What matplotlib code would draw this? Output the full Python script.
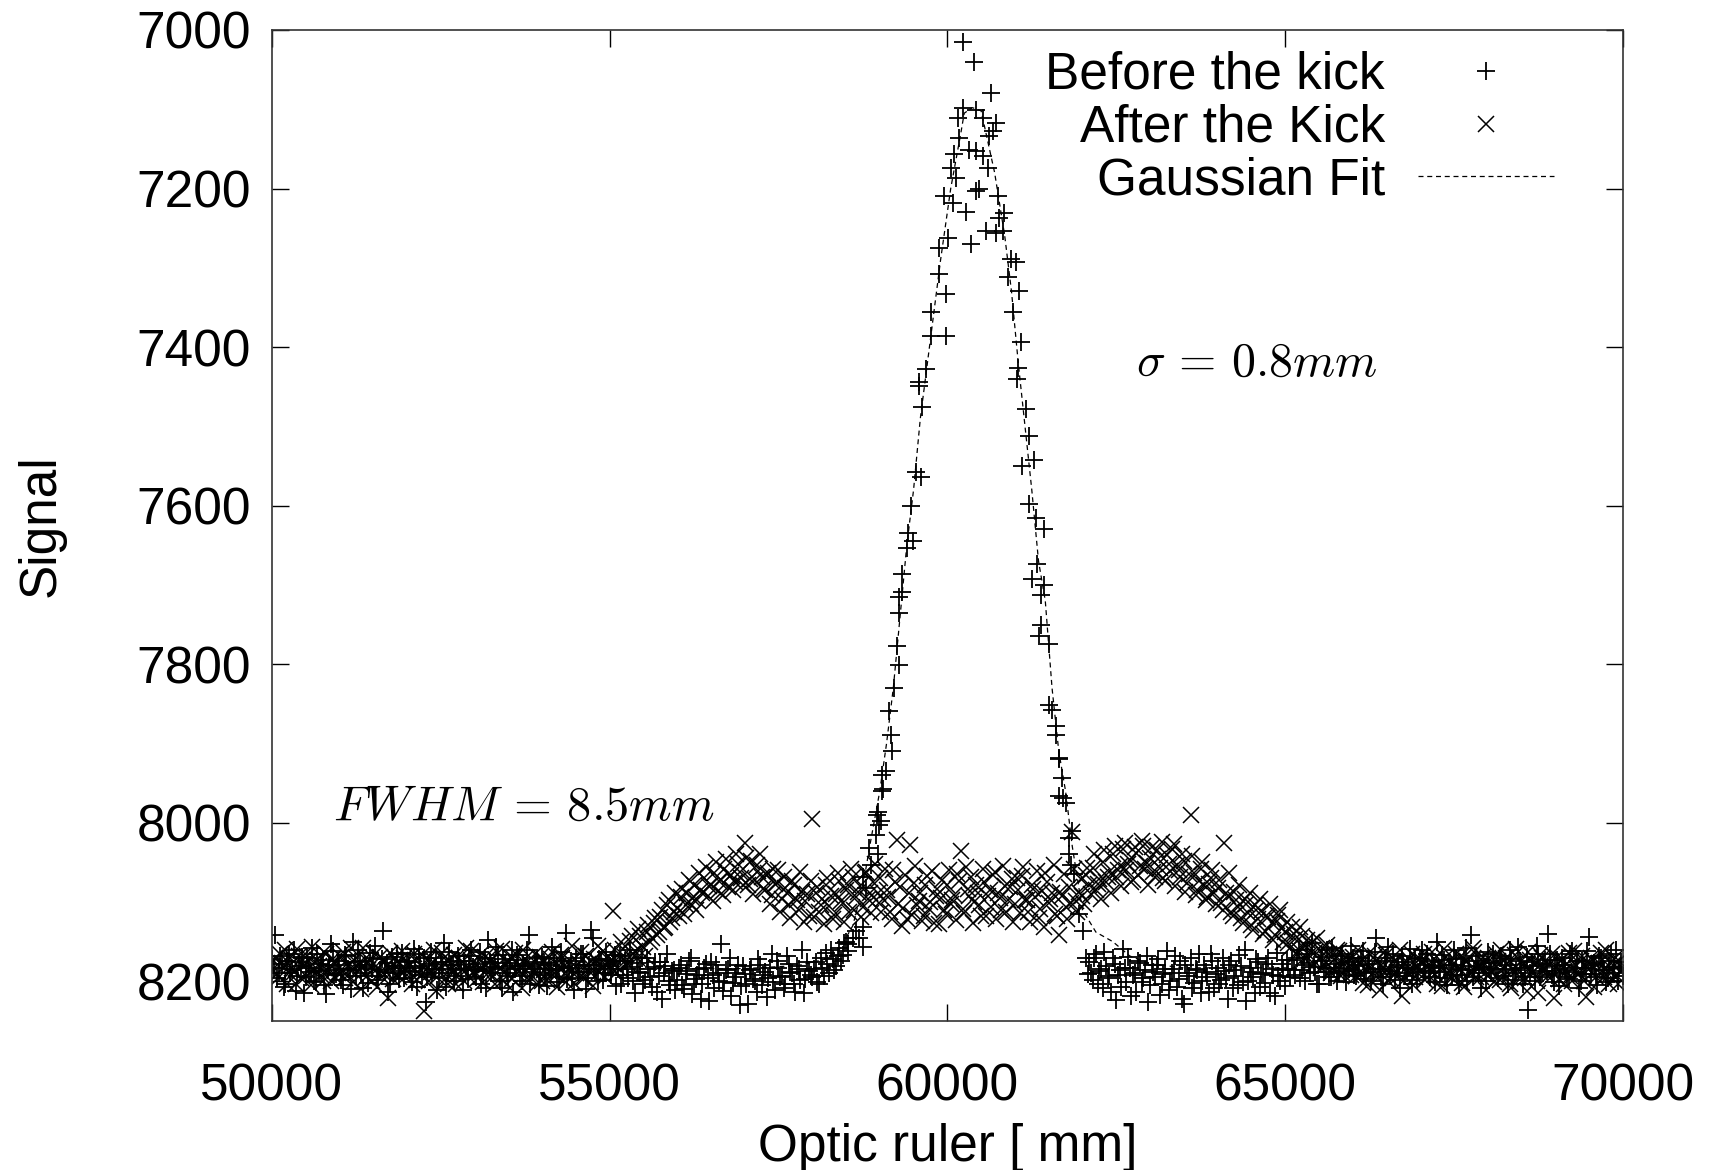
import numpy as np
import matplotlib
matplotlib.use("Agg")
import matplotlib.pyplot as plt

plt.rcParams['font.family'] = ['Liberation Sans', 'DejaVu Sans']
plt.rcParams['mathtext.fontset'] = 'cm'

# --- data (optic ruler position, signal) ---

# before the kick: flat part left of the peak (two interleaved runs, 50 units step)
before_x1 = np.arange(50000, 58550, 50)
before_y1 = [
    8172, 8141, 8190, 8178, 8203, 8165, 8185, 8212, 8176, 8169, 8194, 8183, 8158, 8201, 8187, 8173, 8216, 8180, 8162, 8191,
    8179, 8205, 8168, 8186, 8150, 8193, 8175, 8209, 8182, 8164, 8171, 8198, 8186, 8137, 8177, 8204, 8190, 8166, 8183, 8196,
    8174, 8188, 8159, 8207, 8181, 8170, 8195, 8163, 8184, 8211, 8176, 8152, 8189, 8179, 8200, 8168, 8185, 8174, 8197, 8161,
    8186, 8178, 8203, 8171, 8148, 8190, 8182, 8167, 8208, 8177, 8193, 8160, 8185, 8173, 8199, 8181, 8142, 8188, 8176, 8205,
    8169, 8192, 8180, 8157, 8186, 8201, 8174, 8139, 8183, 8196, 8170, 8188, 8165, 8210, 8179, 8145, 8184, 8172, 8198, 8163,
    8181, 8175, 8206, 8168, 8192, 8185, 8160, 8199, 8177, 8189, 8203, 8171, 8194, 8182, 8213, 8176, 8190, 8166, 8205, 8186,
    8198, 8179, 8210, 8187, 8171, 8203, 8192, 8222, 8183, 8196, 8176, 8208, 8189, 8153, 8201, 8185, 8218, 8194, 8180, 8206,
    8191, 8228, 8184, 8199, 8172, 8205, 8188, 8196, 8166, 8211, 8183, 8193, 8203, 8178, 8190, 8214, 8185, 8160, 8197, 8187,
    8195, 8176, 8204, 8183, 8164, 8190, 8172, 8181, 8158, 8167, 8150,
]
before_x1b = np.arange(50025, 58550, 50)
before_y1b = [
    8183, 8196, 8168, 8207, 8174, 8189, 8160, 8193, 8181, 8215, 8171, 8188, 8199, 8166, 8178, 8205, 8186, 8153, 8192, 8175,
    8198, 8167, 8184, 8210, 8176, 8161, 8190, 8179, 8202, 8185, 8155, 8193, 8172, 8188, 8213, 8169, 8181, 8197, 8164, 8187,
    8176, 8201, 8183, 8165, 8192, 8226, 8178, 8189, 8170, 8196, 8184, 8207, 8163, 8180, 8193, 8174, 8211, 8186, 8168, 8182,
    8195, 8163, 8187, 8209, 8176, 8184, 8157, 8199, 8172, 8190, 8181, 8214, 8167, 8193, 8178, 8160, 8203, 8185, 8171, 8189,
    8177, 8206, 8186, 8170, 8194, 8163, 8182, 8197, 8175, 8211, 8188, 8166, 8180, 8196, 8135, 8184, 8200, 8173, 8190, 8178,
    8192, 8167, 8185, 8203, 8174, 8196, 8182, 8215, 8188, 8170, 8198, 8184, 8207, 8176, 8193, 8222, 8181, 8199, 8187, 8211,
    8183, 8205, 8191, 8174, 8216, 8197, 8185, 8203, 8178, 8225, 8192, 8180, 8199, 8212, 8186, 8170, 8202, 8190, 8230, 8181,
    8204, 8186, 8197, 8213, 8179, 8192, 8220, 8183, 8201, 8175, 8195, 8209, 8168, 8188, 8203, 8181, 8198, 8215, 8176, 8192,
    8185, 8201, 8170, 8193, 8178, 8160, 8186, 8168, 8175, 8152, 8162,
]

# before the kick: the peak itself
peak_x = [
    58525, 58599, 58649, 58698, 58747, 58747, 58747, 58797, 58846, 58871, 58944, 58969, 58969, 58995, 59018, 58965,
    59038, 59038, 59043, 59093, 59142, 59167, 59187, 59216, 59260, 59290, 59290, 59290, 59335, 59335, 59410, 59413,
    59487, 59463, 59537, 59611, 59586, 59625, 59586, 59684, 59758, 59758, 59980, 59882, 59980, 59882, 60005, 59956,
    60079, 60055, 60128, 60104, 60178, 60153, 60227, 60227, 60276, 60326, 60350, 60400, 60424, 60424, 60424, 60474,
    60523, 60523, 60572, 60597, 60622, 60646, 60671, 60720, 60720, 60745, 60769, 60818, 60843, 60892, 60941, 60966,
    61015, 61040, 61065, 61090, 61036, 61164, 61213, 61110, 61287, 61213, 61312, 61435, 61331, 61257, 61435, 61386,
    61386, 61361, 61509, 61509, 61553, 61608, 61608, 61657, 61657, 61701, 61706, 61657, 61756, 61805, 61849, 61805,
    61830, 61879, 61953, 62002, 62052, 62076,
]
peak_y = [
    8153, 8145, 8136, 8145, 8132, 8157, 8069, 8082, 8032, 8053, 8015, 8040, 7987, 8003, 7998, 7990,
    7960, 7940, 7958, 7935, 7859, 7889, 7910, 7830, 7777, 7801, 7736, 7715, 7709, 7686, 7654, 7635,
    7645, 7601, 7557, 7564, 7444, 7476, 7449, 7428, 7386, 7356, 7386, 7308, 7333, 7275, 7262, 7210,
    7218, 7174, 7187, 7157, 7136, 7111, 7099, 7015, 7229, 7151, 7270, 7040, 7101, 7153, 7203, 7201,
    7111, 7159, 7254, 7174, 7134, 7080, 7128, 7117, 7256, 7210, 7237, 7254, 7231, 7312, 7289, 7356,
    7293, 7426, 7329, 7394, 7440, 7478, 7512, 7550, 7543, 7598, 7616, 7629, 7673, 7692, 7700, 7713,
    7751, 7764, 7774, 7851, 7858, 7878, 7889, 7918, 7920, 7943, 7969, 7966, 7975, 8019, 8010, 8040,
    8053, 8065, 8115, 8136, 8170, 8191,
]

# before the kick: flat part right of the peak
before_x2 = np.arange(62100, 70001, 50)
before_y2 = [
    8176, 8198, 8165, 8187, 8209, 8181, 8193, 8170, 8224, 8186, 8159, 8201, 8183, 8192, 8214, 8177, 8196, 8168, 8205, 8188,
    8180, 8217, 8191, 8162, 8199, 8184, 8207, 8175, 8229, 8190, 8171, 8202, 8186, 8215, 8179, 8195, 8166, 8209, 8183, 8198,
    8187, 8222, 8174, 8193, 8205, 8181, 8160, 8199, 8188, 8215, 8176, 8191, 8202, 8170, 8185, 8219, 8193, 8178, 8206, 8184,
    8173, 8192, 8161, 8186, 8199, 8177, 8152, 8188, 8204, 8169, 8183, 8195, 8158, 8178, 8190, 8166, 8201, 8184, 8171, 8193,
    8180, 8162, 8197, 8175, 8188, 8146, 8184, 8203, 8170, 8191, 8165, 8182, 8209, 8176, 8190, 8159, 8185, 8198, 8172, 8187,
    8166, 8194, 8181, 8150, 8188, 8173, 8205, 8179, 8161, 8192, 8184, 8170, 8199, 8141, 8186, 8175, 8208, 8182, 8163, 8190,
    8177, 8196, 8168, 8185, 8204, 8172, 8189, 8157, 8183, 8194, 8236, 8176, 8199, 8165, 8187, 8173, 8140, 8192, 8181, 8206,
    8170, 8186, 8197, 8162, 8183, 8208, 8175, 8191, 8144, 8179, 8195, 8168, 8186, 8201, 8174, 8189, 8160, 8183, 8193,
]
before_x2b = np.arange(62125, 70000, 50)
before_y2b = [
    8190, 8171, 8204, 8185, 8163, 8196, 8213, 8178, 8192, 8207, 8183, 8169, 8219, 8190, 8175, 8201, 8186, 8226, 8180, 8194,
    8172, 8203, 8185, 8211, 8190, 8168, 8197, 8222, 8179, 8193, 8208, 8184, 8166, 8199, 8188, 8213, 8175, 8191, 8204, 8170,
    8196, 8180, 8209, 8186, 8167, 8201, 8225, 8183, 8194, 8172, 8207, 8189, 8178, 8215, 8192, 8164, 8200, 8186, 8173, 8195,
    8186, 8170, 8196, 8179, 8165, 8190, 8182, 8203, 8175, 8188, 8160, 8194, 8183, 8199, 8168, 8187, 8176, 8155, 8192, 8180,
    8171, 8189, 8178, 8200, 8163, 8185, 8194, 8175, 8157, 8187, 8198, 8180, 8168, 8193, 8183, 8204, 8170, 8188, 8161, 8179,
    8190, 8175, 8201, 8183, 8167, 8196, 8180, 8192, 8172, 8205, 8186, 8158, 8181, 8194, 8168, 8189, 8177, 8199, 8184, 8165,
    8184, 8170, 8193, 8179, 8161, 8198, 8186, 8174, 8204, 8169, 8190, 8181, 8155, 8195, 8178, 8187, 8166, 8201, 8173, 8189,
    8179, 8195, 8166, 8188, 8174, 8200, 8183, 8162, 8191, 8177, 8205, 8170, 8186, 8196, 8165, 8182, 8199, 8176,
]

# after the kick, two interleaved runs over the whole range
after_x = np.arange(50000, 70001, 50)
after_y = [
    8186, 8170, 8195, 8177, 8161, 8190, 8183, 8204, 8168, 8179, 8193, 8174, 8157, 8188, 8181, 8199, 8166, 8185, 8172, 8196,
    8183, 8163, 8190, 8178, 8201, 8171, 8186, 8158, 8194, 8175, 8184, 8207, 8169, 8189, 8180, 8164, 8197, 8176, 8187, 8170,
    8192, 8179, 8165, 8198, 8184, 8238, 8173, 8188, 8160, 8194, 8181, 8170, 8203, 8185, 8167, 8191, 8177, 8199, 8183, 8162,
    8178, 8196, 8185, 8169, 8190, 8174, 8203, 8180, 8159, 8188, 8176, 8197, 8164, 8186, 8209, 8172, 8183, 8193, 8166, 8181,
    8199, 8175, 8187, 8163, 8192, 8180, 8170, 8201, 8184, 8156, 8189, 8177, 8195, 8168, 8183, 8206, 8173, 8188, 8162, 8179,
    8181, 8111, 8190, 8172, 8159, 8177, 8149, 8165, 8171, 8143, 8157, 8138, 8150, 8126, 8141, 8119, 8133, 8104, 8125, 8112,
    8108, 8094, 8115, 8089, 8102, 8078, 8097, 8085, 8070, 8092, 8079, 8064, 8086, 8072, 8058, 8081, 8066, 8075, 8052, 8070,
    8025, 8079, 8048, 8072, 8061, 8068, 8085, 8063, 8091, 8077, 8059, 8096, 8082, 8104, 8073, 8095, 8110, 8087, 8099, 8118,
    7995, 8088, 8112, 8096, 8079, 8105, 8121, 8090, 8074, 8101, 8085, 8113, 8068, 8094, 8080, 8106, 8062, 8089, 8075, 8098,
    8070, 8096, 8085, 8113, 8060, 8022, 8081, 8108, 8122, 8028, 8076, 8104, 8089, 8117, 8067, 8100, 8126, 8083, 8095, 8110,
    8078, 8102, 8091, 8065, 8036, 8114, 8083, 8069, 8100, 8088, 8118, 8075, 8093, 8106, 8062, 8089, 8110, 8080, 8097, 8071,
    8103, 8085, 8067, 8098, 8112, 8079, 8094, 8120, 8086, 8063, 8101, 8089, 8115, 8141, 8092, 8106, 8081, 8012, 8099, 8087,
    8093, 8066, 8078, 8057, 8085, 8071, 8049, 8075, 8062, 8040, 8068, 8054, 8033, 8060, 8047, 8072, 8038, 8055, 8029, 8051,
    8044, 8062, 8035, 8057, 8070, 8041, 8061, 8027, 8053, 8069, 8048, 8076, 7990, 8063, 8085, 8058, 8079, 8094, 8070, 8088,
    8082, 8101, 8025, 8093, 8112, 8087, 8106, 8120, 8096, 8114, 8129, 8104, 8122, 8111, 8136, 8119, 8127, 8142, 8116, 8133,
    8138, 8152, 8131, 8147, 8160, 8143, 8155, 8167, 8150, 8163, 8172, 8158, 8176, 8166, 8185, 8170, 8162, 8189, 8175, 8181,
    8169, 8193, 8177, 8202, 8185, 8164, 8190, 8174, 8211, 8182, 8167, 8196, 8179, 8188, 8160, 8199, 8176, 8184, 8205, 8171,
    8187, 8166, 8194, 8180, 8172, 8203, 8185, 8159, 8191, 8176, 8198, 8183, 8168, 8207, 8174, 8189, 8163, 8181, 8195, 8177,
    8170, 8188, 8201, 8175, 8160, 8192, 8180, 8209, 8167, 8185, 8174, 8196, 8163, 8189, 8178, 8215, 8171, 8184, 8193, 8166,
    8182, 8197, 8172, 8186, 8164, 8200, 8179, 8190, 8168, 8220, 8185, 8173, 8194, 8177, 8188, 8161, 8203, 8180, 8192, 8174,
    8185,
]
after_xb = np.arange(50025, 70000, 50)
after_yb = [
    8175, 8191, 8166, 8182, 8203, 8170, 8188, 8159, 8196, 8180, 8168, 8205, 8184, 8173, 8192, 8163, 8187, 8200, 8176, 8189,
    8169, 8196, 8181, 8158, 8190, 8178, 8210, 8172, 8186, 8199, 8165, 8183, 8194, 8175, 8221, 8188, 8170, 8195, 8162, 8184,
    8180, 8204, 8173, 8190, 8167, 8186, 8199, 8177, 8212, 8183, 8164, 8196, 8175, 8189, 8203, 8170, 8185, 8158, 8194, 8176,
    8189, 8167, 8201, 8180, 8174, 8193, 8162, 8185, 8198, 8176, 8208, 8171, 8190, 8182, 8160, 8196, 8179, 8187, 8204, 8169,
    8186, 8198, 8172, 8190, 8207, 8167, 8181, 8193, 8176, 8202, 8185, 8163, 8196, 8178, 8189, 8172, 8155, 8183, 8195, 8168,
    8176, 8160, 8183, 8150, 8169, 8178, 8143, 8162, 8134, 8155, 8168, 8129, 8146, 8120, 8138, 8110, 8131, 8097, 8120, 8088,
    8117, 8083, 8104, 8072, 8095, 8110, 8064, 8088, 8056, 8080, 8099, 8049, 8073, 8091, 8046, 8067, 8085, 8040, 8062, 8079,
    8045, 8071, 8090, 8053, 8040, 8083, 8066, 8102, 8058, 8076, 8113, 8069, 8088, 8120, 8079, 8097, 8062, 8125, 8090, 8073,
    8119, 8081, 8104, 8128, 8070, 8093, 8116, 8064, 8099, 8125, 8078, 8058, 8110, 8087, 8119, 8063, 8096, 8114, 8052, 8089,
    8112, 8058, 8094, 8121, 8075, 8103, 8130, 8066, 8088, 8116, 8055, 8099, 8124, 8079, 8109, 8061, 8093, 8128, 8072, 8115,
    8060, 8098, 8123, 8073, 8109, 8056, 8092, 8127, 8079, 8104, 8058, 8118, 8085, 8066, 8121, 8095, 8054, 8112, 8081, 8125,
    8070, 8114, 8056, 8097, 8125, 8083, 8061, 8109, 8132, 8075, 8096, 8053, 8118, 8087, 8065, 8122, 8101, 8058, 8112, 8071,
    8102, 8057, 8090, 8040, 8077, 8096, 8035, 8068, 8088, 8029, 8060, 8080, 8026, 8052, 8075, 8031, 8066, 8023, 8058, 8079,
    8030, 8068, 8046, 8024, 8074, 8052, 8033, 8080, 8060, 8039, 8087, 8065, 8042, 8091, 8073, 8050, 8098, 8077, 8059, 8103,
    8072, 8110, 8088, 8064, 8118, 8097, 8079, 8126, 8103, 8088, 8135, 8110, 8096, 8140, 8117, 8102, 8148, 8124, 8110, 8150,
    8125, 8158, 8140, 8166, 8132, 8170, 8148, 8160, 8178, 8146, 8183, 8165, 8154, 8190, 8172, 8160, 8193, 8178, 8168, 8192,
    8178, 8160, 8191, 8175, 8205, 8183, 8168, 8196, 8180, 8162, 8200, 8187, 8173, 8193, 8219, 8177, 8189, 8165, 8195, 8182,
    8174, 8198, 8185, 8163, 8191, 8178, 8206, 8170, 8187, 8196, 8165, 8183, 8202, 8176, 8190, 8158, 8194, 8181, 8169, 8211,
    8192, 8177, 8165, 8198, 8183, 8171, 8203, 8186, 8159, 8194, 8180, 8212, 8173, 8188, 8199, 8167, 8185, 8176, 8196, 8221,
    8169, 8186, 8204, 8178, 8193, 8162, 8188, 8175, 8199, 8183, 8170, 8207, 8186, 8164, 8195, 8179, 8190, 8172, 8203, 8187,
]

# gaussian fit curve as drawn
fit_x = [50000, 57000, 57800, 58200, 58400, 58600, 58750, 58850, 59000, 59100, 59200, 59300, 59400, 59500,
         59600, 59750, 59900, 60050, 60200, 60250, 60370, 60500, 60700, 60850, 60950, 61050, 61150, 61250,
         61350, 61450, 61550, 61650, 61750, 61850, 62000, 62200, 62450, 62700, 63000, 63500, 70000]
fit_y = [8184, 8184, 8180, 8172, 8160, 8130, 8080, 8030, 7960, 7900, 7830, 7740, 7650, 7580,
         7490, 7390, 7290, 7200, 7130, 7105, 7098, 7102, 7180, 7260, 7330, 7420, 7500, 7580,
         7670, 7720, 7830, 7910, 7960, 8030, 8110, 8138, 8150, 8168, 8178, 8183, 8183]

before_x = np.concatenate([before_x1, before_x1b, peak_x, before_x2, before_x2b])
before_y = np.concatenate([before_y1, before_y1b, peak_y, before_y2, before_y2b])
after_all_x = np.concatenate([after_x, after_xb])
after_all_y = np.concatenate([after_y, after_yb])

fig = plt.figure(figsize=(17.1, 11.7), dpi=100)
ax = fig.add_axes([0.159, 0.1274, 0.790, 0.847])

ax.plot(before_x, before_y, linestyle='none', marker='+', markersize=13, mew=1.3,
        color='black', label='Before the kick')
ax.plot(after_all_x, after_all_y, linestyle='none', marker='x', markersize=12, mew=1.1,
        color='black', label='After the Kick')
ax.plot(fit_x, fit_y, linestyle=(0, (4, 3)), linewidth=0.9, color='black', label='Gaussian Fit')

ax.set_xlim(50000, 70000)
ax.set_ylim(8250, 7000)
ax.set_xticks(range(50000, 70001, 5000))
ax.set_yticks(range(7000, 8201, 200))

ax.tick_params(direction='in', length=12, width=1.0, top=True, right=True,
               labelsize=37, colors='black')
ax.tick_params(axis='x', pad=30)
ax.tick_params(axis='y', pad=15)
for s in ax.spines.values():
    s.set_linewidth(1.2)
    s.set_color('#333333')

ax.set_xlabel('Optic ruler [ mm]', fontsize=37)
ax.set_ylabel('Signal', fontsize=37)
ax.xaxis.set_label_coords(0.5, -0.103)
ax.xaxis.label.set_va('top')
ax.yaxis.set_label_coords(-0.189, 0.5)
ax.yaxis.label.set_va('top')

ax.text(0.045, 0.216, r'$FWHM\,=\,8.5mm$', transform=ax.transAxes, fontsize=35,
        ha='left', va='center')
ax.text(0.640, 0.664, r'$\sigma\,=\,0.8mm$', transform=ax.transAxes, fontsize=34.5,
        ha='left', va='center')

ax.legend(loc='upper right', bbox_to_anchor=(0.949, 0.979), frameon=False,
          markerfirst=False, fontsize=37, handlelength=2.65, handletextpad=0.64,
          labelspacing=0.075, borderpad=0, borderaxespad=0, numpoints=1)

fig.savefig('out.png', dpi=100)
